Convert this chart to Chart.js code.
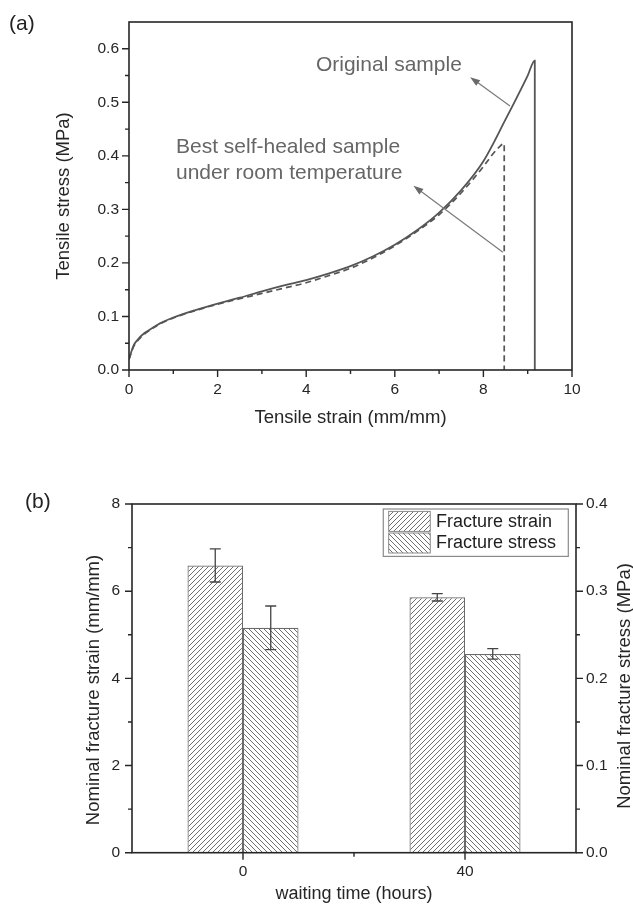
<!DOCTYPE html>
<html><head><meta charset="utf-8">
<script src="https://cdn.jsdelivr.net/npm/chart.js@4.4.1/dist/chart.umd.min.js"></script>
<style>
html,body{margin:0;padding:0;background:#fff;width:633px;height:909px;overflow:hidden;}
#wrapA{position:absolute;left:0;top:0;width:633px;height:450px;}
#wrapB{position:absolute;left:0;top:450px;width:633px;height:459px;}
.panel{position:absolute;font-family:"Liberation Sans",Arial,sans-serif;font-size:21px;color:#222;line-height:normal;}
</style></head><body>
<div id="wrapA"><canvas id="chartA" width="633" height="450"></canvas></div>
<div id="wrapB"><canvas id="chartB" width="633" height="459"></canvas></div>
<div class="panel" style="left:9px;top:11px">(a)</div>
<div class="panel" style="left:25px;top:489px">(b)</div>
<script>
// ---------------- data: panel (a) tensile curves ----------------
const strainOriginal = [0, 0.1, 0.2, 0.35, 0.5, 0.7, 1.0, 1.5, 2.0, 2.5, 3.0, 3.5, 4.0, 4.5, 5.0, 5.5, 6.0, 6.5, 7.0, 7.5, 8.0, 8.5, 9.0, 9.16, 9.16];
const stressOriginal = [0.02, 0.045, 0.057, 0.069, 0.077, 0.087, 0.098, 0.112, 0.124, 0.135, 0.147, 0.158, 0.168, 0.18, 0.194, 0.212, 0.234, 0.261, 0.294, 0.336, 0.39, 0.468, 0.55, 0.578, 0];
const strainHealed = [0, 0.1, 0.2, 0.35, 0.5, 0.7, 1.0, 1.5, 2.0, 2.5, 3.0, 3.5, 4.0, 4.5, 5.0, 5.5, 6.0, 6.5, 7.0, 7.5, 8.0, 8.2, 8.35, 8.47, 8.47];
const stressHealed = [0.02, 0.043, 0.055, 0.067, 0.076, 0.086, 0.097, 0.111, 0.123, 0.133, 0.143, 0.153, 0.163, 0.176, 0.19, 0.209, 0.232, 0.259, 0.29, 0.331, 0.38, 0.402, 0.416, 0.423, 0];

// ---------------- data: panel (b) fracture bars ----------------
const waitingTimes = ['0', '40'];
const fractureStrain = [6.59, 5.86];
const fractureStrainErr = [0.38, 0.085];
const fractureStress = [0.258, 0.228];
const fractureStressErr = [0.025, 0.006];

// annotation texts for panel (a)
const noteTexts = ['Original sample', 'Best self-healed sample', 'under room temperature'];

const FONT = '"Liberation Sans", Arial, sans-serif';
const AX = '#262626';
const pts = (xs, ys) => xs.map((x, i) => ({x: x, y: ys[i]}));

Chart.defaults.font.family = FONT;
Chart.defaults.color = AX;

// annotation placement (data coordinates)
const notesA = [
  {t: noteTexts[0], x: 4.22, y: 0.570},
  {t: noteTexts[1], x: 1.06, y: 0.417},
  {t: noteTexts[2], x: 1.06, y: 0.367}
];
const arrowsA = [
  {from: [8.60, 0.493], to: [7.70, 0.547]},
  {from: [8.44, 0.220], to: [6.42, 0.344]}
];

function drawArrow(ctx, x1, y1, x2, y2) {
  const ang = Math.atan2(y2 - y1, x2 - x1);
  const L = 10, W = 3.5;
  ctx.beginPath();
  ctx.moveTo(x1, y1);
  ctx.lineTo(x2 - Math.cos(ang) * L * 0.8, y2 - Math.sin(ang) * L * 0.8);
  ctx.stroke();
  ctx.beginPath();
  ctx.moveTo(x2, y2);
  ctx.lineTo(x2 - Math.cos(ang) * L - Math.sin(ang) * W, y2 - Math.sin(ang) * L + Math.cos(ang) * W);
  ctx.lineTo(x2 - Math.cos(ang) * L + Math.sin(ang) * W, y2 - Math.sin(ang) * L - Math.cos(ang) * W);
  ctx.closePath();
  ctx.fill();
}

function tickMarks(ctx, scale, a, side) {
  const vals = scale.ticks.map(t => t.value);
  ctx.beginPath();
  vals.forEach((v, i) => {
    const p = scale.getPixelForValue(v);
    mark(p, 7);
    if (i < vals.length - 1) mark(scale.getPixelForValue((v + vals[i + 1]) / 2), 4);
  });
  ctx.stroke();
  function mark(p, L) {
    if (side === 'bottom') { ctx.moveTo(p, a.bottom); ctx.lineTo(p, a.bottom + L); }
    else if (side === 'left') { ctx.moveTo(a.left, p); ctx.lineTo(a.left - L, p); }
    else { ctx.moveTo(a.right, p); ctx.lineTo(a.right + L, p); }
  }
}

const decorA = {
  id: 'decorA',
  afterDraw(chart) {
    const {ctx, chartArea: a, scales: {x, y}} = chart;
    ctx.save();
    ctx.strokeStyle = AX; ctx.lineWidth = 1.6;
    ctx.strokeRect(a.left, a.top, a.right - a.left, a.bottom - a.top);
    ctx.lineWidth = 1.4;
    tickMarks(ctx, x, a, 'bottom');
    tickMarks(ctx, y, a, 'left');
    // annotations
    ctx.fillStyle = '#666'; ctx.font = '21px ' + FONT;
    ctx.textAlign = 'left'; ctx.textBaseline = 'middle';
    notesA.forEach(n => ctx.fillText(n.t, x.getPixelForValue(n.x), y.getPixelForValue(n.y)));
    ctx.strokeStyle = '#7a7a7a'; ctx.fillStyle = '#6a6a6a'; ctx.lineWidth = 1.2;
    arrowsA.forEach(r => drawArrow(ctx,
      x.getPixelForValue(r.from[0]), y.getPixelForValue(r.from[1]),
      x.getPixelForValue(r.to[0]), y.getPixelForValue(r.to[1])));
    ctx.restore();
  }
};

new Chart(document.getElementById('chartA'), {
  type: 'line',
  data: {
    datasets: [
      {label: 'Original sample', data: pts(strainOriginal, stressOriginal), borderColor: '#555', borderWidth: 1.8,
       pointRadius: 0, cubicInterpolationMode: 'monotone', fill: false},
      {label: 'Best self-healed sample under room temperature', data: pts(strainHealed, stressHealed), borderColor: '#555',
       borderWidth: 1.7, borderDash: [6, 4], pointRadius: 0, cubicInterpolationMode: 'monotone', fill: false}
    ]
  },
  options: {
    responsive: false, animation: false,
    layout: {padding: {left: 0, right: 61, top: 22, bottom: 0}},
    plugins: {legend: {display: false}, tooltip: {enabled: false}},
    scales: {
      x: {
        type: 'linear', min: 0, max: 10,
        ticks: {stepSize: 2, color: AX, font: {size: 15.5}, padding: 10, maxRotation: 0, callback: v => String(v)},
        grid: {display: false, drawTicks: false}, border: {display: false},
        title: {display: true, text: 'Tensile strain (mm/mm)', color: AX, font: {size: 18.5}, padding: {top: 0, bottom: 21}},
        afterFit: s => { s.height = 80; }
      },
      y: {
        type: 'linear', min: 0, max: 0.65,
        ticks: {stepSize: 0.1, includeBounds: false, color: AX, font: {size: 15.5}, padding: 10, callback: v => Number(v).toFixed(1)},
        grid: {display: false, drawTicks: false}, border: {display: false},
        title: {display: true, text: 'Tensile stress (MPa)', color: AX, font: {size: 18.5}, padding: {top: 53, bottom: 0}},
        afterFit: s => { s.width = 129; }
      }
    }
  },
  plugins: [decorA]
});

// ---------------- panel (b) ----------------
function hatch(forward) {
  const s = 5, c = document.createElement('canvas');
  c.width = s; c.height = s;
  const g = c.getContext('2d');
  g.fillStyle = '#fff'; g.fillRect(0, 0, s, s);
  g.strokeStyle = '#6f6f6f'; g.lineWidth = 1;
  g.beginPath();
  if (forward) {
    g.moveTo(-1, s + 1); g.lineTo(s + 1, -1);
    g.moveTo(-1, 1); g.lineTo(1, -1);
    g.moveTo(s - 1, s + 1); g.lineTo(s + 1, s - 1);
  } else {
    g.moveTo(-1, -1); g.lineTo(s + 1, s + 1);
    g.moveTo(-1, s - 1); g.lineTo(1, s + 1);
    g.moveTo(s - 1, -1); g.lineTo(s + 1, 1);
  }
  g.stroke();
  return g.createPattern(c, 'repeat');
}
const patStrain = hatch(true);
const patStress = hatch(false);
const errorArrays = [fractureStrainErr, fractureStressErr];

const decorB = {
  id: 'decorB',
  afterDatasetsDraw(chart) {
    const {ctx} = chart;
    ctx.save();
    ctx.strokeStyle = '#444'; ctx.lineWidth = 1.3;
    chart.data.datasets.forEach((ds, di) => {
      const meta = chart.getDatasetMeta(di);
      const sc = chart.scales[ds.yAxisID];
      meta.data.forEach((bar, i) => {
        const v = ds.data[i], e = errorArrays[di][i];
        const yt = sc.getPixelForValue(v + e), yb = sc.getPixelForValue(v - e);
        const cw = 5.5;
        ctx.beginPath();
        ctx.moveTo(bar.x, yt); ctx.lineTo(bar.x, yb);
        ctx.moveTo(bar.x - cw, yt); ctx.lineTo(bar.x + cw, yt);
        ctx.moveTo(bar.x - cw, yb); ctx.lineTo(bar.x + cw, yb);
        ctx.stroke();
      });
    });
    ctx.restore();
  },
  afterDraw(chart) {
    const {ctx, chartArea: a, scales: {x, y, y1}} = chart;
    ctx.save();
    ctx.strokeStyle = AX; ctx.lineWidth = 1.6;
    ctx.strokeRect(a.left, a.top, a.right - a.left, a.bottom - a.top);
    ctx.lineWidth = 1.4;
    tickMarks(ctx, y, a, 'left');
    tickMarks(ctx, y1, a, 'right');
    // category axis: major at centres, minor at boundaries
    ctx.beginPath();
    for (let i = 0; i < x.ticks.length; i++) {
      const p = x.getPixelForTick(i);
      ctx.moveTo(p, a.bottom); ctx.lineTo(p, a.bottom + 7);
      if (i < x.ticks.length - 1) {
        const m = (p + x.getPixelForTick(i + 1)) / 2;
        ctx.moveTo(m, a.bottom); ctx.lineTo(m, a.bottom + 4);
      }
    }
    ctx.stroke();
    // y axis titles (both read bottom-to-top)
    ctx.fillStyle = AX; ctx.font = '18.5px ' + FONT;
    ctx.textAlign = 'center'; ctx.textBaseline = 'middle';
    [[93.8, 240, 'Nominal fracture strain (mm/mm)'], [625, 236, 'Nominal fracture stress (MPa)']].forEach(t => {
      ctx.save(); ctx.translate(t[0], t[1]); ctx.rotate(-Math.PI / 2); ctx.fillText(t[2], 0, 0); ctx.restore();
    });
    // legend
    ctx.font = '18px ' + FONT;
    const labels = chart.data.datasets.map(d => d.label);
    const tw = Math.max(...labels.map(l => ctx.measureText(l).width));
    const bw = 5 + 42 + 6 + tw + 12, bh = 47.4;
    const bx = a.right - 7.7 - bw, by = a.top + 5;
    ctx.fillStyle = '#fff'; ctx.fillRect(bx, by, bw, bh);
    ctx.strokeStyle = '#8a8a8a'; ctx.lineWidth = 1.2;
    ctx.strokeRect(bx, by, bw, bh);
    chart.data.datasets.forEach((ds, i) => {
      const ry = by + 2.4 + i * 21.6;
      ctx.fillStyle = ds.backgroundColor;
      ctx.fillRect(bx + 5.4, ry, 41.6, 20);
      ctx.strokeStyle = '#8a8a8a'; ctx.lineWidth = 1;
      ctx.strokeRect(bx + 5.4, ry, 41.6, 20);
      ctx.fillStyle = '#1e1e1e'; ctx.textAlign = 'left'; ctx.textBaseline = 'middle';
      ctx.fillText(ds.label, bx + 52.7, ry + 10.5);
    });
    ctx.restore();
  }
};

new Chart(document.getElementById('chartB'), {
  type: 'bar',
  data: {
    labels: waitingTimes,
    datasets: [
      {label: 'Fracture strain', data: fractureStrain, yAxisID: 'y', backgroundColor: patStrain,
       borderColor: '#6a6a6a', borderWidth: 1.2, categoryPercentage: 0.5, barPercentage: 1.0},
      {label: 'Fracture stress', data: fractureStress, yAxisID: 'y1', backgroundColor: patStress,
       borderColor: '#6a6a6a', borderWidth: 1.2, categoryPercentage: 0.5, barPercentage: 1.0}
    ]
  },
  options: {
    responsive: false, animation: false,
    layout: {padding: {left: 0, right: 0, top: 54, bottom: 0}},
    plugins: {legend: {display: false}, tooltip: {enabled: false}},
    scales: {
      x: {
        type: 'category', offset: true,
        ticks: {color: AX, font: {size: 15.5}, padding: 10, maxRotation: 0},
        grid: {display: false, drawTicks: false}, border: {display: false},
        title: {display: true, text: 'waiting time (hours)', color: AX, font: {size: 18}, padding: {top: 0, bottom: 4}},
        afterFit: s => { s.height = 56.3; }
      },
      y: {
        type: 'linear', position: 'left', min: 0, max: 8,
        ticks: {stepSize: 2, color: AX, font: {size: 15.5}, padding: 12},
        grid: {display: false, drawTicks: false}, border: {display: false},
        afterFit: s => { s.width = 132; }
      },
      y1: {
        type: 'linear', position: 'right', min: 0, max: 0.4,
        ticks: {stepSize: 0.1, color: AX, font: {size: 15.5}, padding: 10, callback: v => Number(v).toFixed(1)},
        grid: {display: false, drawTicks: false}, border: {display: false},
        afterFit: s => { s.width = 57; }
      }
    }
  },
  plugins: [decorB]
});
</script>
</body></html>
